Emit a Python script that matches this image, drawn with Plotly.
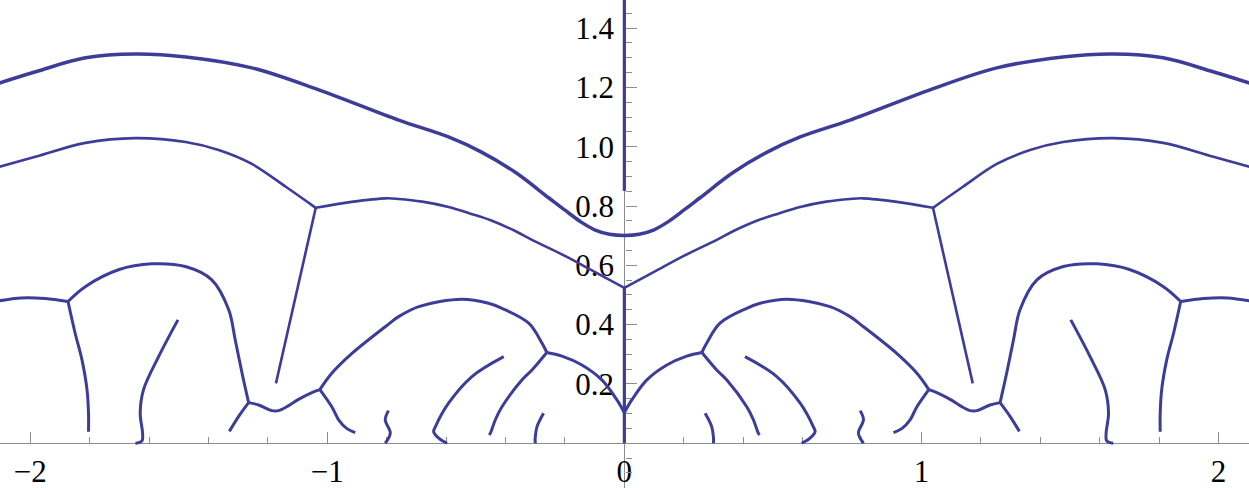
import plotly.graph_objects as go

# right half of the picture (x >= 0); the left half is its mirror image
top_x = [0, 0.05, 0.10, 0.144, 0.20, 0.255, 0.366, 0.481, 0.592, 0.760, 1.029, 1.254, 1.476, 1.645, 1.814, 1.982, 2.12]
top_y = [0.701, 0.705, 0.720, 0.745, 0.786, 0.828, 0.913, 0.982, 1.033, 1.090, 1.192, 1.266, 1.303, 1.313, 1.300, 1.253, 1.21]

mid_x = [0, 0.1, 0.2, 0.311, 0.366, 0.45, 0.52, 0.592, 0.68, 0.76, 0.803, 0.918, 1.039]
mid_y = [0.524, 0.578, 0.632, 0.686, 0.715, 0.752, 0.775, 0.797, 0.815, 0.824, 0.826, 0.814, 0.794]

arc_x = [1.039, 1.140, 1.254, 1.366, 1.477, 1.646, 1.814, 1.983, 2.12]
arc_y = [0.794, 0.865, 0.942, 0.989, 1.016, 1.029, 1.013, 0.966, 0.928]

spoke_x = [1.039, 1.173]
spoke_y = [0.794, 0.202]

edge_x = [1.873, 1.95, 2.03, 2.12]
edge_y = [0.478, 0.488, 0.490, 0.478]

big_x = [1.873, 1.815, 1.703, 1.591, 1.478, 1.389, 1.332, 1.310, 1.287, 1.265]
big_y = [0.478, 0.528, 0.585, 0.605, 0.596, 0.551, 0.450, 0.348, 0.236, 0.137]

drop_x = [1.265, 1.299, 1.330]
drop_y = [0.137, 0.090, 0.040]

leg_x = [1.873, 1.849, 1.826, 1.809, 1.804, 1.804]
leg_y = [0.478, 0.371, 0.281, 0.180, 0.100, 0.039]

w_x = [1.265, 1.231, 1.187, 1.164, 1.130, 1.097, 1.052, 1.025]
w_y = [0.137, 0.129, 0.110, 0.110, 0.127, 0.148, 0.171, 0.181]

foot_x = [1.025, 0.985, 0.962, 0.935, 0.906]
foot_y = [0.181, 0.123, 0.079, 0.050, 0.036]

dip_x = [0, 0.025, 0.075, 0.143, 0.210, 0.261]
dip_y = [0.103, 0.146, 0.213, 0.264, 0.294, 0.306]

dome_x = [0.261, 0.277, 0.322, 0.412, 0.457, 0.547, 0.692, 0.760, 0.805, 0.917, 0.985, 1.025]
dome_y = [0.306, 0.337, 0.405, 0.455, 0.472, 0.486, 0.461, 0.427, 0.393, 0.303, 0.236, 0.181]

branch_x = [0.261, 0.311, 0.345, 0.412, 0.434, 0.451, 0.455]
branch_y = [0.306, 0.247, 0.213, 0.123, 0.080, 0.034, 0.028]

hook_x = [0.406, 0.513, 0.592, 0.636, 0.642, 0.625, 0.597]
hook_y = [0.292, 0.225, 0.135, 0.056, 0.039, 0.017, 0.0]

stub_x = [0.272, 0.294, 0.300, 0.300]
stub_y = [0.101, 0.056, 0.020, 0.0]

squig_x = [0.794, 0.805, 0.788, 0.805]
squig_y = [0.110, 0.079, 0.034, 0.0]

strand_x = [1.503, 1.568, 1.619, 1.630, 1.622, 1.624, 1.646]
strand_y = [0.416, 0.292, 0.180, 0.101, 0.034, 0.008, 0.0]

stem_low_y = [0, 0.524]
stem_high_y = [0.851, 1.52]

blue = "#3d3d99"

fig = go.Figure()


def both_sides(xs, ys, width, spline=True):
    for sign in (1, -1):
        fig.add_trace(go.Scatter(
            x=[sign * v for v in xs], y=ys, mode="lines",
            line=dict(color=blue, width=width,
                      shape="spline" if spline else "linear", smoothing=1.0)))


# the top curve is smooth across x = 0
fig.add_trace(go.Scatter(
    x=[-v for v in reversed(top_x)] + top_x[1:],
    y=list(reversed(top_y)) + top_y[1:],
    mode="lines", line=dict(color=blue, width=3.5, shape="spline", smoothing=1.0)))

both_sides(mid_x, mid_y, 2.6)
both_sides(arc_x, arc_y, 2.6)
both_sides(spoke_x, spoke_y, 2.6, spline=False)
both_sides(edge_x, edge_y, 3)
both_sides(big_x, big_y, 3)
both_sides(drop_x, drop_y, 3)
both_sides(leg_x, leg_y, 3)
both_sides(w_x, w_y, 3)
both_sides(foot_x, foot_y, 3)
both_sides(dip_x, dip_y, 3)
both_sides(dome_x, dome_y, 3)
both_sides(branch_x, branch_y, 3)
both_sides(hook_x, hook_y, 3)
both_sides(stub_x, stub_y, 3)
both_sides(squig_x, squig_y, 3)
both_sides(strand_x, strand_y, 3)

for ys in (stem_low_y, stem_high_y):
    fig.add_trace(go.Scatter(x=[0, 0], y=ys, mode="lines", line=dict(color=blue, width=3.2)))

x_range = [-2.102, 2.103]
y_range = [-0.151, 1.495]

axis_font = dict(family="Liberation Serif", size=31, color="black")

fig.update_layout(
    width=1249,
    height=488,
    margin=dict(l=0, r=0, t=0, b=0),
    paper_bgcolor="white",
    plot_bgcolor="white",
    showlegend=False,
    xaxis=dict(
        range=x_range,
        anchor="free",
        position=(0 - y_range[0]) / (y_range[1] - y_range[0]),
        showgrid=False, zeroline=False,
        showline=True, linecolor="#8c8c8c", linewidth=1.3,
        ticks="inside", ticklen=11, tickcolor="#8c8c8c", tickwidth=1.3,
        tickmode="linear", tick0=0, dtick=1,
        minor=dict(ticks="inside", ticklen=6, tickcolor="#8c8c8c", tickwidth=1,
                   tickmode="linear", tick0=0, dtick=0.2, showgrid=False),
        tickfont=axis_font,
        ticklabelstandoff=0,
        layer="below traces",
        automargin=False,
    ),
    yaxis=dict(
        range=y_range,
        anchor="free",
        position=(0 - x_range[0]) / (x_range[1] - x_range[0]),
        showgrid=False, zeroline=False,
        showline=True, linecolor="#8c8c8c", linewidth=1.3,
        ticks="inside", ticklen=11, tickcolor="#8c8c8c", tickwidth=1.3,
        tickmode="array", tickvals=[0.2, 0.4, 0.6, 0.8, 1.0, 1.2, 1.4],
        tickformat=".1f",
        minor=dict(ticks="inside", ticklen=6, tickcolor="#8c8c8c", tickwidth=1,
                   tickmode="linear", tick0=0, dtick=0.05, showgrid=False),
        tickfont=axis_font,
        ticklabelstandoff=4,
        layer="below traces",
        automargin=False,
    ),
)

fig.write_html("out.html", config={"displayModeBar": False},
               post_script="document.body.style.margin='0';")
